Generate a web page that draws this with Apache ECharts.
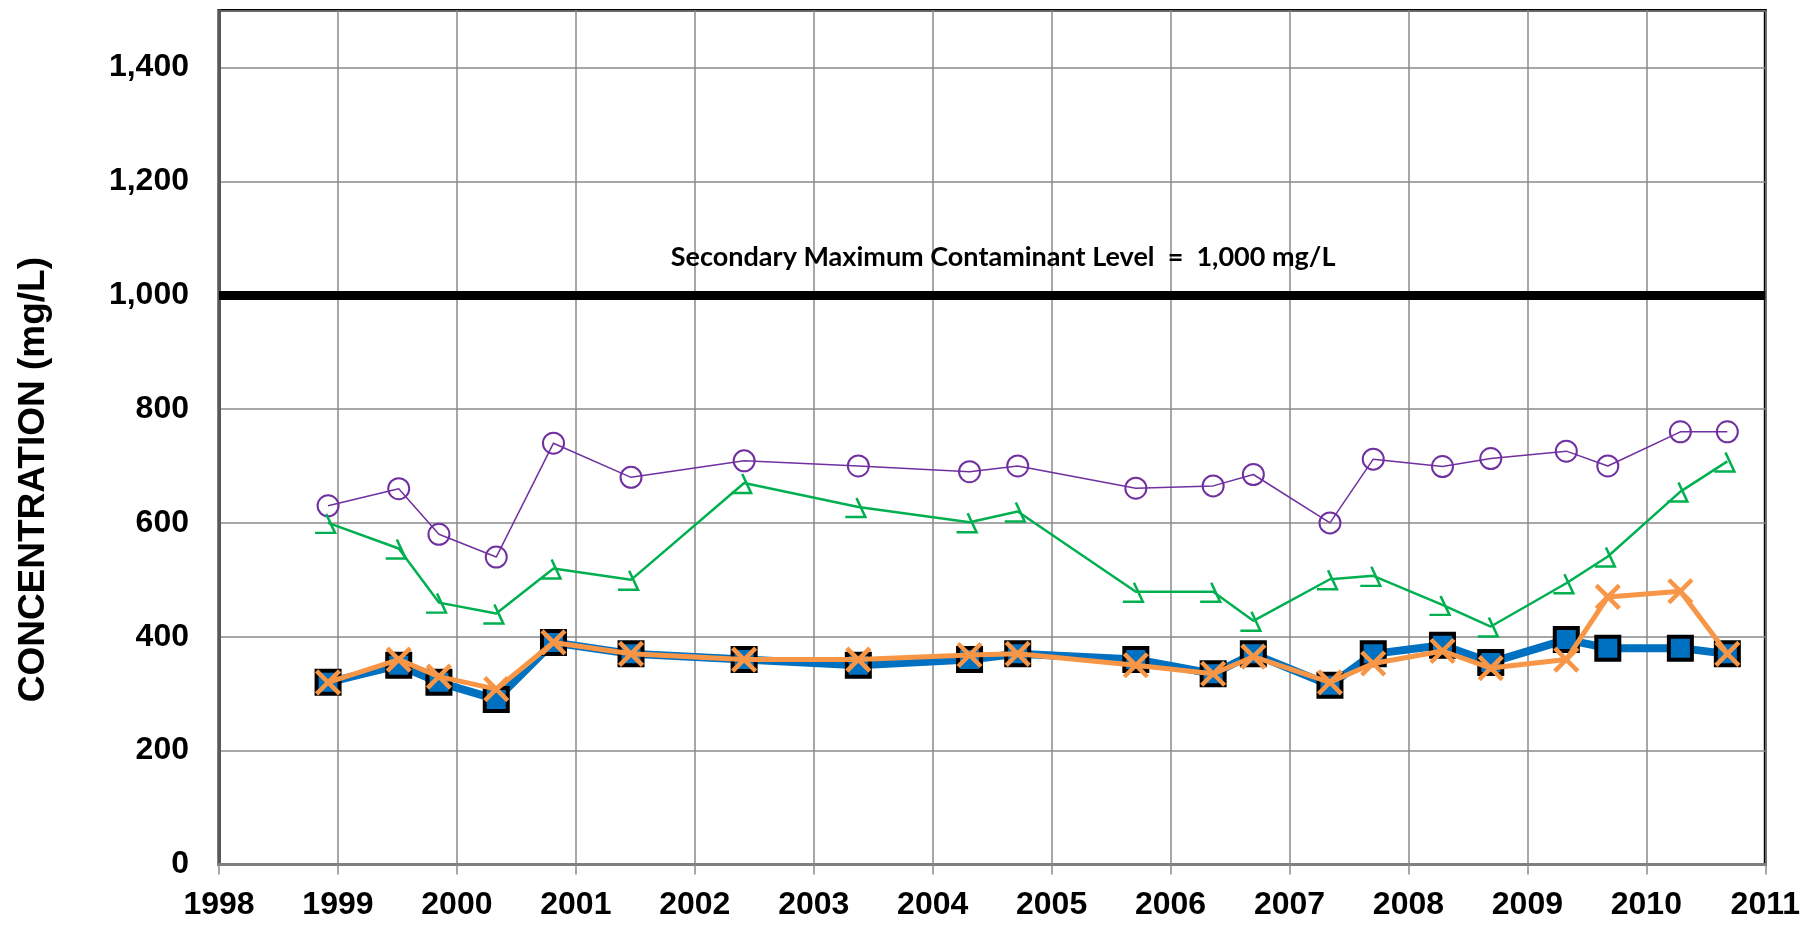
<!DOCTYPE html>
<html>
<head>
<meta charset="utf-8">
<script src="https://cdn.jsdelivr.net/npm/echarts@6/dist/echarts.min.js"></script>
<style>
  html, body { margin: 0; padding: 0; background: #ffffff; }
  #chart { width: 1803px; height: 928px; }
</style>
</head>
<body>
<div id="chart"></div>
<script>
// Sampling dates as decimal years
const sampleYears = [1998.917, 1999.511, 1999.849, 2000.331, 2000.812, 2001.464, 2002.415,
  2003.375, 2004.310, 2004.715, 2005.708, 2006.358, 2006.696, 2007.340, 2007.704,
  2008.286, 2008.692, 2009.327, 2009.676, 2010.286, 2010.681];

// Concentrations (mg/L) for each sampled series
const circleValues = [630, 660, 580, 540, 740, 680, 709, 700, 690, 700, 661, 665,
  685, 600, 712, 699, 713, 726, 700, 760, 760];
const hookValues = [600, 555, 460, 441, 520, 500, 670, 628, 601, 620, 479, 479,
  428, 501, 507, 456, 418, 494, 541, 655, 708];
const squareValues = [320, 350, 320, 290, 390, 370, 360, 350, 360, 370, 360, 335,
  370, 315, 370, 385, 355, 395, 380, 380, 370];
const crossValues = [320, 360, 330, 308, 390, 370, 360, 360, 368, 370, 350, 335,
  365, 320, 353, 375, 345, 360, 470, 480, 370];

// Axis ranges
const xMin = 1998, xMax = 2011, xStep = 1;
const yMin = 0, yMax = 1500, yStep = 200;

// Regulatory limit line
const limitValue = 1000;
const limitText = 'Secondary Maximum Contaminant Level  =  1,000 mg/L';
const yTitle = 'CONCENTRATION (mg/L)';

const toPairs = vals => sampleYears.map((x, i) => [x, vals[i]]);

const axisFont = { fontFamily: 'Liberation Sans', fontWeight: 'bold', fontSize: 32, color: '#000' };
const gridGray = '#8a8a8a';

const chart = echarts.init(document.getElementById('chart'), null, { renderer: 'canvas' });

chart.setOption({
  backgroundColor: '#ffffff',
  animation: false,
  grid: {
    left: 219, right: 36, top: 10.5, bottom: 63.5,
    show: true, borderColor: '#000', borderWidth: 3, backgroundColor: 'transparent'
  },
  xAxis: {
    type: 'value', min: xMin, max: xMax, interval: xStep,
    axisLine: { show: true, lineStyle: { color: '#7f7f7f', width: 3 } },
    axisTick: { show: true, length: 10, lineStyle: { color: gridGray, width: 1.5 } },
    splitLine: { show: true, lineStyle: { color: gridGray, width: 1.5 } },
    axisLabel: Object.assign({ margin: 25, formatter: v => String(v) }, axisFont)
  },
  yAxis: {
    type: 'value', min: yMin, max: yMax, interval: yStep,
    axisLine: { show: true, lineStyle: { color: '#595959', width: 3 } },
    axisTick: { show: false },
    splitLine: { show: true, lineStyle: { color: gridGray, width: 1.5 } },
    axisLabel: Object.assign({ margin: 30, showMaxLabel: false }, axisFont)
  },
  graphic: [{
    type: 'text',
    left: 15, top: 257,
    rotation: Math.PI / 2,
    style: {
      text: yTitle,
      font: 'bold 37px "Liberation Sans"',
      fill: '#000'
    }
  }],
  series: [
    {
      type: 'line', z: 2,
      data: toPairs(circleValues),
      symbol: 'circle', symbolSize: 21,
      itemStyle: { color: 'rgba(0,0,0,0)', borderColor: '#7030a0', borderWidth: 2 },
      lineStyle: { color: '#7030a0', width: 1.5 },
      markLine: {
        silent: true, symbol: 'none',
        data: [{ yAxis: limitValue }],
        lineStyle: { color: '#000', width: 9, type: 'solid' },
        label: {
          show: true, position: 'insideMiddleTop', distance: 24,
          padding: [0, 0, 0, 22],
          formatter: limitText,
          fontFamily: 'Lato', fontWeight: 'bold', fontSize: 27, color: '#000'
        }
      }
    },
    {
      type: 'line', z: 2,
      data: toPairs(hookValues),
      symbol: 'path://M10,0 L18,17 L0,17', symbolSize: [20, 19], symbolOffset: [-3, 0.5],
      itemStyle: { color: 'rgba(0,0,0,0)', borderColor: '#00b050', borderWidth: 2.5 },
      lineStyle: { color: '#00b050', width: 2.5 }
    },
    {
      type: 'line', z: 3,
      data: toPairs(squareValues),
      symbol: 'rect', symbolSize: 23,
      itemStyle: { color: '#0070c0', borderColor: '#000', borderWidth: 4 },
      lineStyle: { color: '#0070c0', width: 8 }
    },
    {
      type: 'line', z: 4,
      data: toPairs(crossValues),
      symbol: 'path://M0,0 L10,10 M10,0 L0,10', symbolSize: 23,
      itemStyle: { color: 'rgba(0,0,0,0)', borderColor: '#f79646', borderWidth: 4.5 },
      lineStyle: { color: '#f79646', width: 5 }
    }
  ]
});
</script>
</body>
</html>
